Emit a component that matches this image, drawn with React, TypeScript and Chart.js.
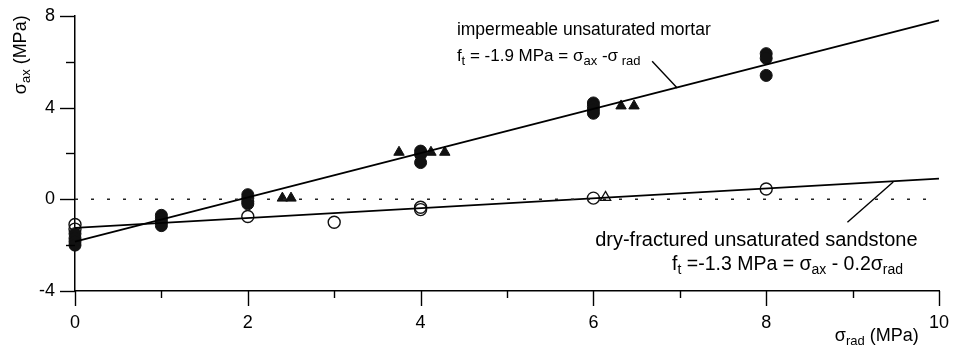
import React, { useEffect, useRef } from 'react';
import { Chart, registerables } from 'chart.js';

Chart.register(...registerables);

// ---- data ----
const mortarCircleX = [0, 0, 0, 0, 1, 1, 1, 1, 2, 2, 2, 2, 4, 4, 4, 6, 6, 6, 6, 8, 8, 8];
const mortarCircleY = [-1.5, -1.7, -1.85, -2.0, -0.7, -0.85, -1.0, -1.15, 0.2, 0.05, -0.1, -0.2, 2.1, 1.95, 1.6, 4.2, 4.05, 3.9, 3.75, 6.35, 6.15, 5.4];
const mortarTriX = [2.4, 2.5, 3.75, 4.12, 4.28, 6.32, 6.47];
const mortarTriY = [0.05, 0.05, 2.05, 2.05, 2.05, 4.07, 4.07];
const sandCircleX = [0, 0, 2, 3, 4, 4, 6, 8];
const sandCircleY = [-1.1, -1.3, -0.75, -1.0, -0.35, -0.45, 0.05, 0.45];
const sandTriX = [6.14];
const sandTriY = [0.08];
const mortarFitX = [0, 10];
const mortarFitY = [-1.85, 7.8];
const sandFitX = [0, 10];
const sandFitY = [-1.25, 0.9];
const zeroLineX = [0, 10];
const zeroLineY = [0, 0];
const mortarLeaderX = [6.68, 6.97];
const mortarLeaderY = [6.02, 4.85];
const sandLeaderX = [8.94, 9.47];
const sandLeaderY = [-1.0, 0.75];
const xTickValues = [0, 2, 4, 6, 8, 10];
const yTickValues = [-4, 0, 4, 8];

const FONT = '"Liberation Sans", Arial, Helvetica, sans-serif';

const pts = (xs: number[], ys: number[]) => xs.map((x, i) => ({ x, y: ys[i] }));

type Run = { t: string; sub?: boolean };

function drawRuns(ctx: CanvasRenderingContext2D, runs: Run[], x: number, y: number, size: number, subSize: number, subDy: number, align: 'left' | 'center' = 'left') {
  ctx.save();
  ctx.textBaseline = 'alphabetic';
  ctx.textAlign = 'left';
  ctx.fillStyle = '#000';
  let total = 0;
  for (const r of runs) {
    ctx.font = `${r.sub ? subSize : size}px ${FONT}`;
    total += ctx.measureText(r.t).width;
  }
  let cx = align === 'center' ? x - total / 2 : x;
  for (const r of runs) {
    ctx.font = `${r.sub ? subSize : size}px ${FONT}`;
    ctx.fillText(r.t, cx, r.sub ? y + subDy : y);
    cx += ctx.measureText(r.t).width;
  }
  ctx.restore();
}

const decorPlugin = {
  id: 'decor',
  afterDraw(chart: any) {
    const { ctx, chartArea } = chart;
    const xs = chart.scales.x;
    const ys = chart.scales.y;
    ctx.save();
    ctx.strokeStyle = '#000';
    ctx.lineWidth = 1.4;
    // y ticks
    for (let v = -4; v <= 8; v += 2) {
      const py = Math.round(ys.getPixelForValue(v)) + 0.5;
      const len = yTickValues.includes(v) ? 15 : 9;
      ctx.beginPath();
      ctx.moveTo(chartArea.left - len, py);
      ctx.lineTo(chartArea.left, py);
      ctx.stroke();
    }
    // x ticks
    for (let v = 0; v <= 10; v += 1) {
      const px = Math.round(xs.getPixelForValue(v)) + 0.5;
      const len = xTickValues.includes(v) ? 15 : 7;
      ctx.beginPath();
      ctx.moveTo(px, chartArea.bottom);
      ctx.lineTo(px, chartArea.bottom + len);
      ctx.stroke();
    }
    ctx.restore();

    // annotations
    drawRuns(ctx, [{ t: 'impermeable unsaturated mortar' }], xs.getPixelForValue(4.42), ys.getPixelForValue(7.17), 17.5, 13, 4);
    drawRuns(ctx, [
      { t: 'f' }, { t: 't', sub: true }, { t: ' = -1.9 MPa = σ' }, { t: 'ax', sub: true }, { t: ' -σ' }, { t: ' rad', sub: true },
    ], xs.getPixelForValue(4.42), ys.getPixelForValue(6.01), 17, 13, 4);
    drawRuns(ctx, [{ t: 'dry-fractured unsaturated sandstone' }], xs.getPixelForValue(6.02), ys.getPixelForValue(-2.05), 20, 14, 4);
    drawRuns(ctx, [
      { t: 'f' }, { t: 't', sub: true }, { t: ' =-1.3 MPa = σ' }, { t: 'ax', sub: true }, { t: ' - 0.2σ' }, { t: 'rad', sub: true },
    ], xs.getPixelForValue(6.91), ys.getPixelForValue(-3.09), 19.5, 14, 4);

    // x axis title
    drawRuns(ctx, [{ t: 'σ' }, { t: 'rad', sub: true }, { t: ' (MPa)' }], xs.getPixelForValue(9.28), chartArea.bottom + 50, 18, 13, 4, 'center');

    // y axis title (rotated)
    ctx.save();
    ctx.translate(26, ys.getPixelForValue(6.3));
    ctx.rotate(-Math.PI / 2);
    drawRuns(ctx, [{ t: 'σ' }, { t: 'ax', sub: true }, { t: ' (MPa)' }], 0, 0, 18, 13, 4, 'center');
    ctx.restore();
  },
};

export default function App() {
  const ref = useRef<HTMLCanvasElement | null>(null);
  useEffect(() => {
    if (!ref.current) return;
    const lineDs = (xs: number[], ys: number[], extra: any = {}) => ({
      type: 'scatter' as const,
      data: pts(xs, ys),
      showLine: true,
      borderColor: '#000',
      borderWidth: 1.8,
      pointRadius: 0,
      fill: false,
      ...extra,
    });
    const chart = new Chart(ref.current, {
      type: 'scatter',
      data: {
        datasets: [
          lineDs(zeroLineX, zeroLineY, { borderWidth: 1.4, borderDash: [3, 13], borderColor: '#222' }),
          lineDs(mortarFitX, mortarFitY),
          lineDs(sandFitX, sandFitY),
          lineDs(mortarLeaderX, mortarLeaderY, { borderWidth: 1.4 }),
          lineDs(sandLeaderX, sandLeaderY, { borderWidth: 1.4 }),
          {
            data: pts(mortarCircleX, mortarCircleY),
            pointStyle: 'circle',
            pointRadius: 6,
            backgroundColor: '#111',
            borderColor: '#111',
            borderWidth: 1,
          },
          {
            data: pts(mortarTriX, mortarTriY),
            pointStyle: 'triangle',
            pointRadius: 6,
            backgroundColor: '#111',
            borderColor: '#111',
            borderWidth: 1,
          },
          {
            data: pts(sandCircleX, sandCircleY),
            pointStyle: 'circle',
            pointRadius: 6,
            backgroundColor: 'rgba(255,255,255,0)',
            borderColor: '#111',
            borderWidth: 1.4,
          },
          {
            data: pts(sandTriX, sandTriY),
            pointStyle: 'triangle',
            pointRadius: 6,
            backgroundColor: 'rgba(255,255,255,0)',
            borderColor: '#111',
            borderWidth: 1.3,
          },
        ] as any,
      },
      options: {
        animation: false,
        responsive: false,
        events: [],
        clip: false as any,
        layout: { padding: { top: 14, right: 25, left: 0, bottom: 0 } },
        plugins: { legend: { display: false }, tooltip: { enabled: false } },
        scales: {
          x: {
            type: 'linear',
            min: 0,
            max: 10,
            afterFit: (s: any) => { s.height = 56; },
            ticks: {
              stepSize: 1,
              autoSkip: false,
              maxRotation: 0,
              padding: 6,
              color: '#000',
              font: { family: FONT, size: 18 },
              callback: (v: any) => (xTickValues.includes(Number(v)) ? String(v) : ''),
            },
            grid: { display: false, drawTicks: true, tickLength: 15 },
            border: { display: true, color: '#000', width: 1.5 },
          },
          y: {
            type: 'linear',
            min: -4,
            max: 8,
            afterFit: (s: any) => { s.width = 75; },
            ticks: {
              stepSize: 2,
              autoSkip: false,
              padding: 5,
              color: '#000',
              font: { family: FONT, size: 18 },
              callback: (v: any) => (yTickValues.includes(Number(v)) ? String(v) : ''),
            },
            grid: { display: false, drawTicks: true, tickLength: 15 },
            border: { display: true, color: '#000', width: 1.5 },
          },
        },
      },
      plugins: [decorPlugin],
    });
    return () => chart.destroy();
  }, []);
  return (
    <div style={{ position: 'fixed', left: 0, top: 0, width: 964, height: 347, background: '#fff' }}>
      <canvas ref={ref} width={964} height={347} style={{ width: 964, height: 347, display: 'block' }} />
    </div>
  );
}
